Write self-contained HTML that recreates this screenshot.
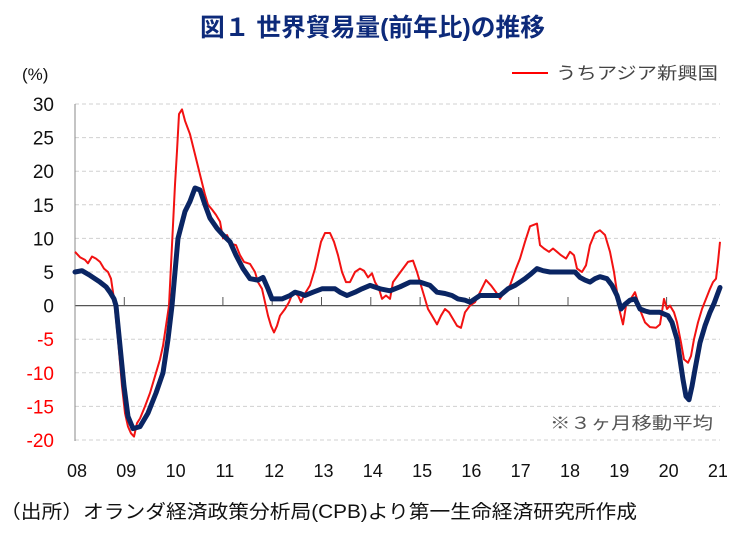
<!DOCTYPE html>
<html><head><meta charset="utf-8"><style>
body{margin:0;background:#fff;width:743px;height:534px;overflow:hidden;font-family:"Liberation Sans","Noto Sans CJK JP",sans-serif}
</style></head><body>
<svg id="s" width="743" height="534" xmlns="http://www.w3.org/2000/svg" style="position:absolute;left:0;top:0">
<text x="200" y="36" textLength="345" lengthAdjust="spacingAndGlyphs" font-size="25" font-weight="bold" fill="#0d2a7a" font-family="Liberation Sans,Noto Sans CJK JP,sans-serif">図１ 世界貿易量(前年比)の推移</text>
<text x="22" y="80" font-size="17" fill="#111">(%)</text>
<line x1="512" y1="73" x2="548" y2="73" stroke="#f00" stroke-width="2"/>
<text x="556" y="79" textLength="162" lengthAdjust="spacingAndGlyphs" font-size="17" fill="#444" font-family="Liberation Sans,Noto Sans CJK JP,sans-serif">うちアジア新興国</text>
<g id="grid"></g>
<line x1="75" y1="104" x2="75" y2="441" stroke="#888" stroke-width="1"/>
<g id="yl" font-size="19" text-anchor="end"></g>
<g id="xl" font-size="18" text-anchor="middle" fill="#111"></g>
<polyline id="red" fill="none" stroke="#f21212" stroke-width="2" stroke-linejoin="round"/>
<polyline id="navy" fill="none" stroke="#0a2563" stroke-width="5" stroke-linejoin="round" stroke-linecap="round"/>
<text x="550" y="429" textLength="163" lengthAdjust="spacingAndGlyphs" font-size="17" fill="#555" font-family="Liberation Sans,Noto Sans CJK JP,sans-serif">※３ヶ月移動平均</text>
<text x="0" y="518" textLength="637" lengthAdjust="spacingAndGlyphs" font-size="19" fill="#111" font-family="Liberation Sans,Noto Sans CJK JP,sans-serif">（出所）オランダ経済政策分析局(CPB)より第一生命経済研究所作成</text>
</svg>
<script>
var Y=function(v){return 305.6-v*6.72};
var g='',yl='',xl='';
for(var v=30;v>=-20;v-=5){var y=Y(v);
if(v!=0)g+='<line x1="75" y1="'+y+'" x2="720" y2="'+y+'" stroke="#d0d0d0" stroke-dasharray="4,3"/>';
yl+='<text x="54" y="'+(y+7)+'" fill="'+(v<0?'#f00':'#111')+'">'+v+'</text>';}
g+='<line x1="75" y1="305.6" x2="720" y2="305.6" stroke="#555" stroke-width="1.3"/>';
for(var i=0;i<14;i++){var x=75+i*49.3;
if(i>0&&i<13)g+='<line x1="'+x+'" y1="297" x2="'+x+'" y2="305.6" stroke="#555"/>';
xl+='<text x="'+(x+2)+'" y="477">'+String(8+i).padStart(2,'0')+'</text>';}
document.getElementById('grid').innerHTML=g;
document.getElementById('yl').innerHTML=yl;
document.getElementById('xl').innerHTML=xl;
var navy=[75,5,82,5.2,90,4.5,100,3.5,106,2.8,110,2,114,1,116,0,120,-6,124,-12,128,-16.5,133,-18.3,140,-18,148,-16,156,-13,163,-10,168,-5,172,0,178,10,185,14,190,15.5,195,17.5,200,17.2,205,15,210,13,217,11.5,223,10.5,230,9.5,236,7.5,243,5.5,250,4,258,3.8,263,4.2,268,2.5,272,1,282,1,290,1.5,295,2,300,1.8,305,1.5,313,2,322,2.5,335,2.5,340,2,347,1.5,355,2,362,2.5,370,3,380,2.5,390,2.2,400,2.8,410,3.5,420,3.5,430,3,437,2,445,1.8,452,1.5,458,1,465,0.8,470,0.5,480,1.5,490,1.5,500,1.5,508,2.5,515,3,520,3.5,525,4,530,4.6,537,5.5,543,5.2,550,5,560,5,570,5,575,5,580,4.2,585,3.8,590,3.5,595,4,600,4.3,607,4,612,3,617,1.5,621,-0.5,625,0.2,630,0.8,635,1,640,-0.5,645,-0.8,650,-1,660,-1,668,-1.5,672,-2.5,677,-5,680,-8,683,-11,686,-13.5,689,-14,692,-12,695,-9.5,700,-5.5,705,-3,710,-1,714,0.3,717,1.5,720,2.7];
var red=[75,8,80,7.2,85,6.8,88,6.3,92,7.3,96,7,100,6.5,104,5.5,108,5,111,4,114,1,116,-2,118,-5,120,-8.5,122,-12,125,-16,128,-18,131,-19,134,-19.5,137,-17.5,140,-16.8,145,-15,150,-13,155,-10.5,160,-8,163,-6,166,-3,169,0,171,6,173,12,175,18,177,23,179,28.5,182,29.2,185,27.5,190,25.5,195,22.5,200,19.5,205,16.5,208,15,212,14.3,216,13.5,220,12.5,223,10,227,10.5,231,9.2,236,9,240,7.5,244,6.5,250,6.2,255,5,258,3.5,262,2.5,265,0.5,268,-1.5,271,-3,274,-4,277,-3,280,-1.5,285,-0.5,289,0.5,293,2,298,1.5,301,0.5,305,1.8,310,3,315,5.5,318,7.5,321,9.5,325,10.8,330,10.8,334,9.5,338,7.5,342,5,346,3.5,350,3.5,355,5,360,5.5,364,5.2,368,4.2,372,4.8,375,3.5,379,2.5,382,1,386,1.5,390,1,393,3.5,398,4.5,403,5.5,408,6.5,413,6.7,417,5,420,3.5,424,1.5,428,-0.5,432,-1.5,437,-2.8,441,-1.5,445,-0.5,449,-1,453,-2,457,-3,461,-3.3,465,-1,470,0,475,0.5,480,2,486,3.8,491,3,496,2,500,1,505,2.2,510,3,516,5.5,520,7,525,9.5,530,11.8,537,12.2,540,9,544,8.5,549,8,553,8.5,557,8,561,7.5,566,7,570,8,574,7.5,577,5.5,582,5,586,6,590,9,595,10.8,600,11.2,605,10.5,610,8,614,5,617,2,620,-1,623,-2.8,626,0,630,0.8,635,2,638,0.5,641,-1,645,-2.5,650,-3.2,656,-3.3,660,-2.8,664,1,667,-0.5,670,0,674,-1,677,-2.5,681,-5.5,684,-8,688,-8.5,691,-7.5,694,-5,698,-2.5,702,-0.5,706,1,710,2.5,713,3.5,716,4,718,6.5,720,9.5];
function pts(a){var s='';for(var i=0;i<a.length;i+=2)s+=a[i]+','+Y(a[i+1]).toFixed(1)+' ';return s}
document.getElementById('red').setAttribute('points',pts(red));
document.getElementById('navy').setAttribute('points',pts(navy));
</script>
</body></html>
